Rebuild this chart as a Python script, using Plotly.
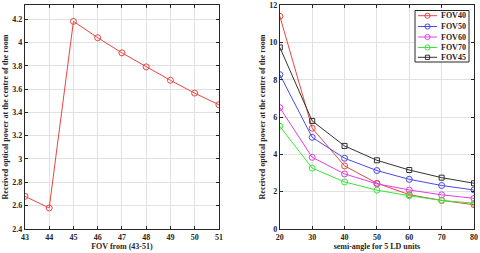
import plotly.graph_objects as go

fov_x = [43, 44, 45, 46, 47, 48, 49, 50, 51]
fov_power = [2.68, 2.58, 4.18, 4.04, 3.91, 3.79, 3.675, 3.565, 3.465]

semi_angle = [20, 30, 40, 50, 60, 70, 80]
series_names = ["FOV40", "FOV50", "FOV60", "FOV70", "FOV45"]
fov40 = [11.4, 5.4, 3.38, 2.45, 1.84, 1.53, 1.3]
fov50 = [8.27, 4.91, 3.79, 3.13, 2.66, 2.33, 2.09]
fov60 = [6.5, 3.84, 2.95, 2.42, 2.09, 1.83, 1.64]
fov70 = [5.5, 3.26, 2.52, 2.08, 1.78, 1.53, 1.38]
fov45 = [9.73, 5.79, 4.45, 3.68, 3.16, 2.75, 2.45]
series_vals = [fov40, fov50, fov60, fov70, fov45]
colors = ["#e8473f", "#4a4ae8", "#e040e0", "#39e639", "#333333"]
symbols = ["circle-open", "circle-open", "circle-open", "circle-open", "square-open"]

W, H = 480, 253
FONT = "Liberation Serif, Times New Roman, serif"
bold_font = dict(family=FONT, size=8, color="#262626", weight="bold")

fig = go.Figure()
fig.add_trace(go.Scatter(
    x=fov_x, y=fov_power, mode="lines+markers",
    line=dict(color="#e8473f", width=1),
    marker=dict(symbol="circle-open", size=6, color="#e8473f", line=dict(width=1)),
    showlegend=False, xaxis="x", yaxis="y"))

for name, vals, c, s in zip(series_names, series_vals, colors, symbols):
    fig.add_trace(go.Scatter(
        x=semi_angle, y=vals, mode="lines+markers", name=name,
        line=dict(color=c, width=1),
        marker=dict(symbol=s, size=6 if s.startswith("circle") else 5, color=c, line=dict(width=1)),
        showlegend=False, xaxis="x2", yaxis="y2"))

axis_common = dict(
    showgrid=True, gridcolor="#e1e1e1", gridwidth=1,
    showline=True, linecolor="#262626", linewidth=1, mirror="ticks",
    ticks="inside", ticklen=3, tickcolor="#262626",
    tickfont=bold_font, zeroline=False, automargin=False,
)

# Manual compact legend (MATLAB-style) in paper coordinates
def px(x):
    return x / W

def py(y):
    return 1 - y / H

shapes = [dict(type="rect", xref="paper", yref="paper",
               x0=px(415), x1=px(469), y0=py(62), y1=py(10.5),
               line=dict(color="#262626", width=1), fillcolor="white", layer="above")]
annotations = []
row_y = [15.7, 26.5, 37.0, 47.5, 57.3]
for name, c, s, ry in zip(series_names, colors, symbols, row_y):
    shapes.append(dict(type="line", xref="paper", yref="paper",
                       x0=px(418), x1=px(437), y0=py(ry), y1=py(ry),
                       line=dict(color=c, width=1), layer="above"))
    r = 2.6 if s.startswith("circle") else 2.1
    shapes.append(dict(type="circle" if s.startswith("circle") else "rect",
                       xref="paper", yref="paper",
                       x0=px(427.5 - r), x1=px(427.5 + r), y0=py(ry + r), y1=py(ry - r),
                       line=dict(color=c, width=1), fillcolor="rgba(0,0,0,0)", layer="above"))
    annotations.append(dict(text=name, xref="paper", yref="paper", x=px(439), y=py(ry),
                            xanchor="left", yanchor="middle", showarrow=False,
                            font=bold_font))

fig.update_layout(
    width=W, height=H,
    margin=dict(l=0, r=0, t=0, b=0),
    paper_bgcolor="white", plot_bgcolor="white",
    font=dict(family=FONT, size=8, color="#262626"),
    showlegend=False,
    xaxis=dict(domain=[0.052, 0.456], range=[43, 51], dtick=1,
               title=dict(text="FOV from (43-51)", font=bold_font, standoff=1),
               anchor="y", **axis_common),
    yaxis=dict(domain=[0.095, 0.98], range=[2.4, 4.32],
               tickvals=[2.4, 2.6, 2.8, 3.0, 3.2, 3.4, 3.6, 3.8, 4.0, 4.2],
               ticktext=["2.4", "2.6", "2.8", "3", "3.2", "3.4", "3.6", "3.8", "4", "4.2"],
               title=dict(text="Received optical power at the centre of the room", font=bold_font, standoff=2),
               anchor="x", **axis_common),
    xaxis2=dict(domain=[0.583, 0.9875], range=[20, 80], dtick=10,
                title=dict(text="semi-angle for 5 LD units", font=bold_font, standoff=1),
                anchor="y2", **axis_common),
    yaxis2=dict(domain=[0.095, 0.98], range=[0, 12], dtick=2,
                title=dict(text="Received optical power at the centre of the room", font=bold_font, standoff=2),
                anchor="x2", **axis_common),
    shapes=shapes,
    annotations=annotations,
)

fig.write_html("out.html", config={"displayModeBar": False},
               post_script="document.body.style.margin='0';document.body.style.padding='0';")
